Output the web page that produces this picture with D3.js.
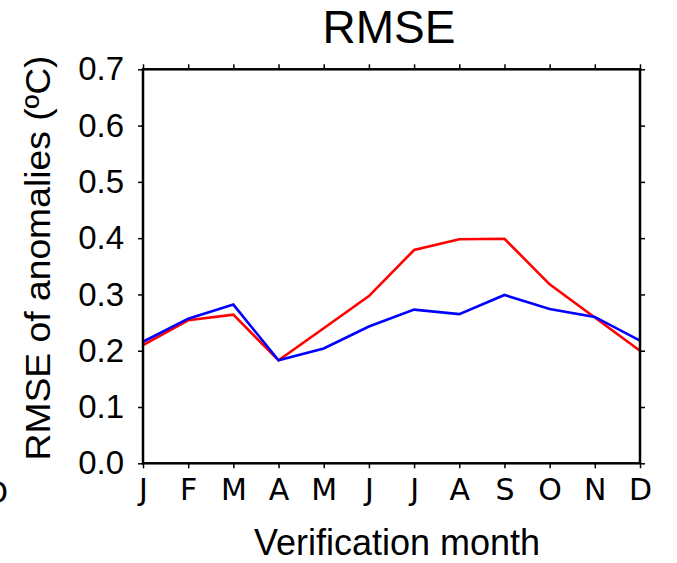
<!DOCTYPE html>
<html>
<head>
<meta charset="utf-8">
<script src="https://cdn.jsdelivr.net/npm/d3@7"></script>
<style>
  html, body { margin: 0; padding: 0; background: #fff; }
  svg { display: block; }
</style>
</head>
<body>
<svg id="chart" width="677" height="563"></svg>
<script>
const months = ["J","F","M","A","M","J","J","A","S","O","N","D"];
const redSeries = [0.210, 0.254, 0.264, 0.183, 0.240, 0.297, 0.379, 0.398, 0.399, 0.318, 0.259, 0.200];
const blueSeries = [0.216, 0.257, 0.282, 0.183, 0.204, 0.243, 0.273, 0.265, 0.299, 0.274, 0.260, 0.218];
const yTicks = [0.0, 0.1, 0.2, 0.3, 0.4, 0.5, 0.6, 0.7];
const titleText = "RMSE";
const xLabelText = "Verification month";
const yLabelText = "RMSE of anomalies (ºC)";

(function () {
const svg = d3.select("#chart");
const pL = 143, pR = 640, pT = 69.3, pB = 463.3;

const x = d3.scaleLinear().domain([0, months.length - 1]).range([pL, pR]);
const y = d3.scaleLinear().domain([0, 0.7]).range([pB, pT]);

const sans = "'Liberation Sans', Arial, Helvetica, sans-serif";
const dejavu = "'DejaVu Sans', sans-serif";

// Lines
const line = d3.line().x((d, i) => x(i)).y(d => y(d));
svg.append("path").datum(redSeries).attr("d", line)
  .attr("fill", "none").attr("stroke", "#ff0000").attr("stroke-width", 2.6)
  .attr("stroke-linejoin", "miter");
svg.append("path").datum(blueSeries).attr("d", line)
  .attr("fill", "none").attr("stroke", "#0000ff").attr("stroke-width", 2.6)
  .attr("stroke-linejoin", "miter");

// Axes (ticks outward on all sides)
const idx = d3.range(months.length);
const xBottom = d3.axisBottom(x).tickValues(idx).tickFormat(i => months[i]).tickSize(5).tickPadding(10);
const xTop = d3.axisTop(x).tickValues(idx).tickFormat("").tickSize(5);
const yLeft = d3.axisLeft(y).tickValues(yTicks).tickFormat(d3.format(".1f")).tickSize(5).tickPadding(14);
const yRight = d3.axisRight(y).tickValues(yTicks).tickFormat("").tickSize(5);

function style(g, ff, fs) {
  g.select(".domain").remove();
  g.selectAll(".tick line").attr("stroke", "#000").attr("stroke-width", 1.5);
  g.selectAll(".tick text").attr("fill", "#000").style("font-family", ff).style("font-size", fs + "px");
}

svg.append("g").attr("transform", `translate(0,${pB})`).call(xBottom).call(g => style(g, dejavu, 30));
svg.append("g").attr("transform", `translate(0,${pT})`).call(xTop).call(g => style(g, dejavu, 30));
svg.append("g").attr("transform", `translate(${pL},0)`).call(yLeft).call(g => style(g, sans, 33));
svg.append("g").attr("transform", `translate(${pR},0)`).call(yRight).call(g => style(g, sans, 33));

// Frame
svg.append("rect").attr("x", pL).attr("y", pT).attr("width", pR - pL).attr("height", pB - pT)
  .attr("fill", "none").attr("stroke", "#000").attr("stroke-width", 2.5);

// Title
svg.append("text").attr("x", 389).attr("y", 43).attr("text-anchor", "middle")
  .style("font-family", sans).style("font-size", "46px").attr("fill", "#000").text(titleText);

// X label
svg.append("text").attr("x", 397).attr("y", 555).attr("text-anchor", "middle")
  .style("font-family", sans).style("font-size", "36px").attr("fill", "#000").text(xLabelText);

// Y label
svg.append("text").attr("transform", "translate(50,258) rotate(-90)").attr("text-anchor", "middle")
  .attr("textLength", 405).attr("lengthAdjust", "spacingAndGlyphs")
  .style("font-family", sans).style("font-size", "35px").attr("fill", "#000").text(yLabelText);

// Clipped neighbour-panel fragment at left edge
svg.append("text").attr("x", -15).attr("y", 503)
  .style("font-family", dejavu).style("font-size", "30px").attr("fill", "#000").text(months[11]);
})();
</script>
</body>
</html>
